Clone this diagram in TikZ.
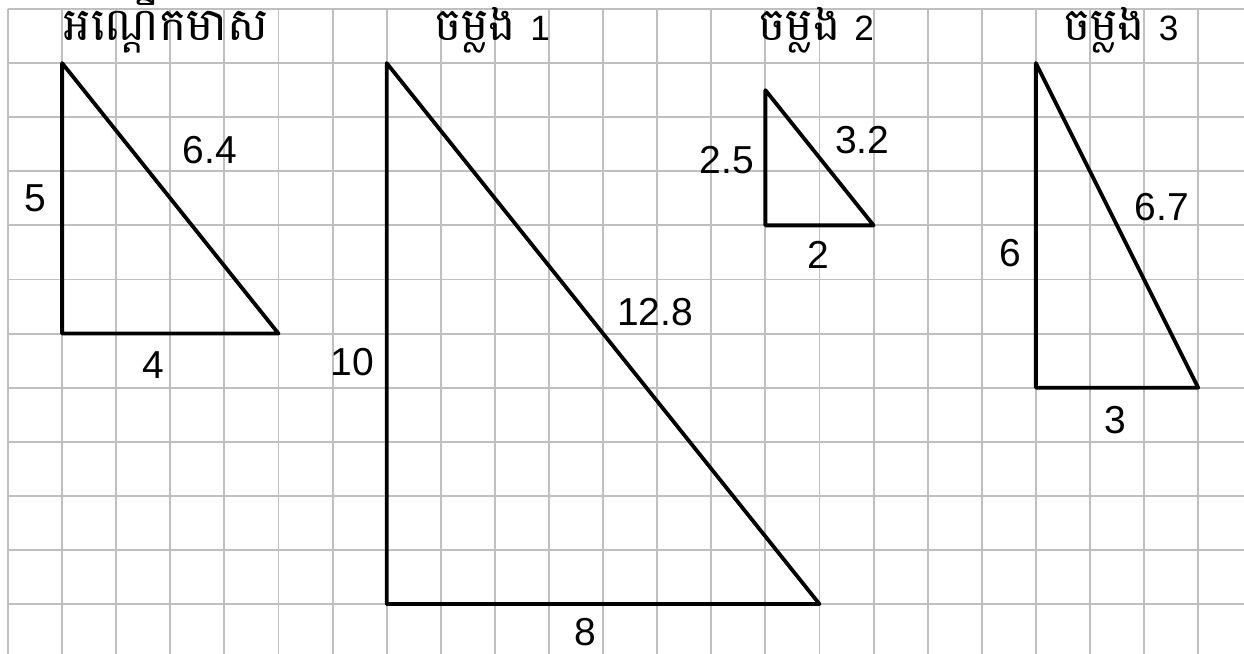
\documentclass[tikz,border=0pt]{standalone}
\usepackage{fontspec}
\setmainfont{Liberation Sans}
\newfontfamily\khmerfont[Script=Khmer,Scale=1.3]{Battambang}
\usetikzlibrary{positioning}

\begin{document}
\begin{tikzpicture}[
    gridline/.style={draw=gray!50, line width=1pt},
    side/.style={draw=black, line width=2pt, line join=round},
    lbl/.style={font=\fontsize{20.5}{23}\selectfont, inner sep=1pt},
    title/.style={font=\fontsize{18.5}{20}\selectfont, inner sep=1pt}
]
\useasboundingbox (-0.148,-0.922) rectangle (22.847,11.166);

% Grid paper
\draw[gridline] (0,-0.95) grid (22.9,11);

% Titles
\node[title, anchor=base] (torig) at (2.92,10.42) {\khmerfont អណ្ដើកមាស};
\node[title, anchor=base] (tcopy1) at (8.95,10.42) {{\khmerfont ចម្លង}\hspace{0.4em}1};
\node[title, anchor=base] (tcopy2) at (14.94,10.42) {{\khmerfont ចម្លង}\hspace{0.4em}2};
\node[title, anchor=base] (tcopy3) at (20.57,10.42) {{\khmerfont ចម្លង}\hspace{0.4em}3};

% Original triangle
\coordinate (oA) at (1,10);
\coordinate (oB) at (1,5);
\coordinate (oC) at (5,5);
\draw[side] (oA) -- (oB) -- (oC) -- cycle;
\node[lbl] (oleft)  at (0.5,7.5)   {5};
\node[lbl] (ohyp)   at (3.73,8.39) {6.4};
\node[lbl] (obase)  at (2.68,4.42) {4};

% Copy 1 (scale 2)
\coordinate (aA) at (7,10);
\coordinate (aB) at (7,0);
\coordinate (aC) at (15,0);
\draw[side] (aA) -- (aB) -- (aC) -- cycle;
\node[lbl] (aleft)  at (6.36,4.48)  {10};
\node[lbl] (ahyp)   at (11.96,5.4)  {12.8};
\node[lbl] (abase)  at (10.67,-0.52) {8};

% Copy 2 (scale 1/2)
\coordinate (bA) at (14,9.5);
\coordinate (bB) at (14,7);
\coordinate (bC) at (16,7);
\draw[side] (bA) -- (bB) -- (bC) -- cycle;
\node[lbl] (bleft)  at (13.29,8.21) {2.5};
\node[lbl] (bhyp)   at (15.79,8.58) {3.2};
\node[lbl] (bbase)  at (14.97,6.45) {2};

% Copy 3 (not similar)
\coordinate (cA) at (19,10);
\coordinate (cB) at (19,4);
\coordinate (cC) at (22,4);
\draw[side] (cA) -- (cB) -- (cC) -- cycle;
\node[lbl] (cleft)  at (18.52,6.49) {6};
\node[lbl] (chyp)   at (21.33,7.34) {6.7};
\node[lbl] (cbase)  at (20.46,3.4)  {3};

\end{tikzpicture}
\end{document}
